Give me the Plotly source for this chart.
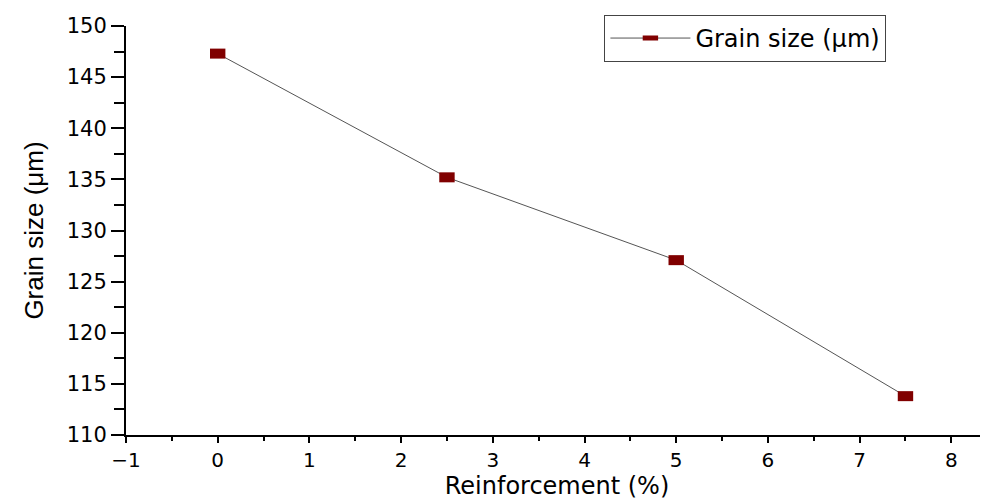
import plotly.graph_objects as go

reinforcement = [0, 2.5, 5, 7.5]
grain_size = [147.3, 135.2, 127.1, 113.8]
series_name = "Grain size (μm)"

fig = go.Figure()
fig.add_trace(go.Scatter(
    x=reinforcement, y=grain_size, name=series_name,
    mode="lines+markers",
    line=dict(color="#555555", width=1),
    marker=dict(symbol="line-ew", size=11, line=dict(color="#800000", width=10)),
    showlegend=True,
))

axis_common = dict(
    showline=True, linecolor="black", linewidth=2,
    ticks="outside", tickcolor="black", tickwidth=2,
    showgrid=False, zeroline=False, automargin=False,
)

fig.update_xaxes(
    range=[-1, 8.4], dtick=1, tick0=0, ticklen=6,
    tickfont=dict(family="DejaVu Sans", size=20, color="black"),
    minor=dict(dtick=0.5, ticklen=4, ticks="outside", tickcolor="black", tickwidth=2),
    title=dict(text="Reinforcement (%)", font=dict(family="DejaVu Sans", size=24, color="black"), standoff=5),
    **axis_common,
)
fig.update_yaxes(
    range=[110, 150], dtick=5, tick0=110, ticklen=13,
    tickfont=dict(family="DejaVu Sans", size=21, color="black"),
    minor=dict(dtick=2.5, ticklen=10, ticks="outside", tickcolor="black", tickwidth=2),
    title=dict(text="Grain size (μm)", font=dict(family="Liberation Sans", size=26, color="black"), standoff=16),
    **axis_common,
)

fig.update_layout(
    width=980, height=493,
    margin=dict(l=118, r=0, t=18, b=66),
    paper_bgcolor="white", plot_bgcolor="white",
    legend=dict(
        x=0.555, y=1.027, xanchor="left", yanchor="top",
        bordercolor="#444444", borderwidth=1, bgcolor="white",
        font=dict(family="DejaVu Sans", size=24, color="black"),
        itemwidth=80,
    ),
)

fig.write_html("out.html")
